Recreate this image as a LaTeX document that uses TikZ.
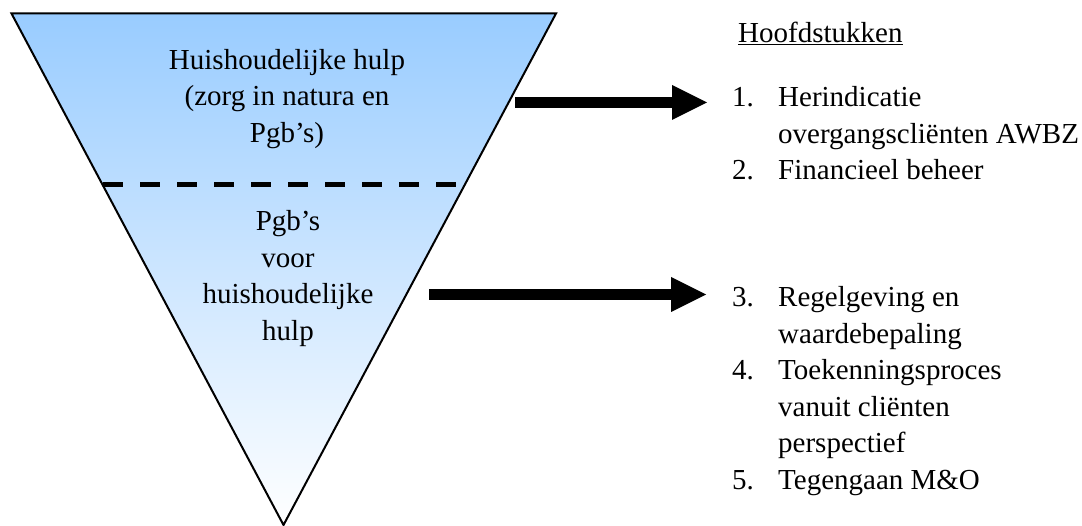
\documentclass[tikz,border=0pt]{standalone}
\usepackage{fontspec}
\setmainfont{Liberation Serif}
\usetikzlibrary{arrows.meta}
\definecolor{funnelblue}{RGB}{153,204,255}
\begin{document}
\begin{tikzpicture}[x=1pt,y=-1pt,
    txt/.style={inner sep=0pt,anchor=base,font=\fontsize{29}{36}\selectfont},
    item/.style={txt,anchor=base west},
    bigarrow/.style={line width=11.6pt,-{Triangle[length=35pt,width=35pt,line width=0pt]}}]
    \useasboundingbox (0,0) rectangle (1082,526);
    \draw [line width=2pt,line join=miter,top color=funnelblue,bottom color=white] (11.5,13.5) -- (556,13.5) -- (283.5,525) -- cycle;
    \draw [line width=5pt,dash pattern=on 20pt off 17pt] (103,185) -- (462,185);
    % tekst in de trechter
    \foreach \y/\t [count=\i] in {69.5/Huishoudelijke hulp, 106/(zorg in natura en, 142.5/Pgb’s)}
        \node [txt] (boven\i) at (287,\y) {\t};
    \foreach \y/\t [count=\i] in {231/Pgb’s, 267.5/voor, 304/huishoudelijke, 340.5/hulp}
        \node [txt] (onder\i) at (288,\y) {\t};
    % hoofdstukken
    \node [item] (kop) at (738,43) {\underline{Hoofdstukken}};
    \foreach \y/\n [count=\i] in {107/1., 180/2., 307/3., 380/4., 489.5/5.}
        \node [item] (nr\i) at (732,\y) {\n};
    \foreach \y/\t [count=\i] in {107/Herindicatie, 143.5/overgangscliënten AWBZ, 180/Financieel beheer, 307/Regelgeving en, 343.5/waardebepaling, 380/Toekenningsproces, 416.5/vanuit cliënten, 453/perspectief, 489.5/Tegengaan M\&O}
        \node [item] (regel\i) at (778,\y) {\t};
    % pijlen
    \coordinate (p1) at (515,102.5);
    \coordinate (q1) at (707,102.5);
    \coordinate (p2) at (429,294.5);
    \coordinate (q2) at (706,294.5);
    \draw [bigarrow] (p1) -- (q1);
    \draw [bigarrow] (p2) -- (q2);
\end{tikzpicture}
\end{document}
